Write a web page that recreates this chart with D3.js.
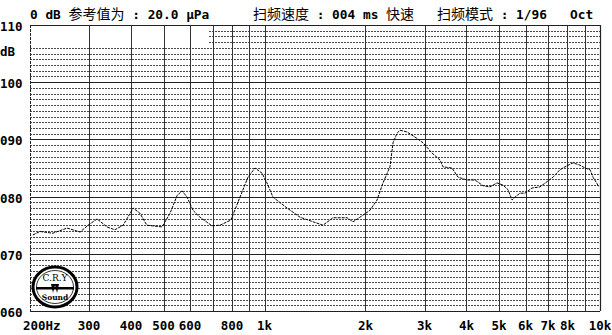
<!DOCTYPE html>
<html>
<head>
<meta charset="utf-8">
<script src="https://cdn.jsdelivr.net/npm/d3@7"></script>
<style>
  body { margin: 0; background: #fff; }
  svg { display: block; }
</style>
</head>
<body>
<div id="fig"></div>
<script>
// response curve
const freqs = [204, 214, 234, 258, 282, 298, 317, 339, 358, 379, 406, 425, 446, 495, 523, 549, 568, 588, 612, 642,
  697, 737, 794, 845, 893, 937, 983, 1017, 1060, 1167, 1276, 1395, 1494, 1600, 1762, 1836, 1926, 2062, 2165, 2255,
  2366, 2416, 2484, 2535, 2661, 2810, 2969, 3158, 3335, 3404, 3620, 3774, 4014, 4242, 4480, 4700, 4932, 5140, 5320,
  5468, 5580, 5776, 5976, 6270, 6624, 6950, 7244, 7598, 7864, 8308, 8716, 9022, 9340, 9532, 9932];
const levels = [73.3, 73.9, 73.6, 74.5, 73.8, 75.0, 76.1, 74.7, 74.2, 75.0, 78.0, 77.1, 75.0, 74.7, 77.1, 80.2, 81.0, 79.9, 77.6, 76.4,
  74.9, 75.0, 75.9, 79.9, 83.4, 85.0, 84.1, 82.4, 79.9, 78.0, 76.4, 75.6, 75.0, 76.3, 76.3, 75.6, 76.4, 77.6, 79.4, 82.4,
  85.2, 89.4, 91.1, 91.6, 91.3, 90.4, 89.4, 87.6, 86.4, 85.2, 85.0, 83.4, 82.9, 82.9, 81.9, 81.7, 82.4, 82.0, 81.2,
  79.4, 79.9, 80.6, 80.6, 81.5, 81.7, 82.6, 83.4, 84.7, 85.2, 85.9, 85.5, 85.0, 84.7, 83.4, 81.7];

const gridFreqs = [300, 400, 500, 600, 700, 800, 900, 1000, 2000, 3000, 4000, 5000, 6000, 7000, 8000, 9000];
const xTickFreqs = [200, 300, 400, 500, 600, 800, 1000, 2000, 3000, 4000, 5000, 6000, 7000, 8000, 10000];
const xTickText = ["200Hz", "300", "400", "500", "600", "800", "1k", "2k", "3k", "4k", "5k", "6k", "7k", "8k", "10k"];
const yTicks = [110, 100, 90, 80, 70, 60];
const yTickText = ["110", "100", "090", "080", "070", "060"];

const headers = ["0 dB 参考值为 : 20.0 μPa", "扫频速度 : 004 ms 快速", "扫频模式 : 1/96   Oct"];

const W = 612, H = 335;
const plotL = 30, plotR = 600, plotT = 25, plotB = 311;
const mono = "'DejaVu Sans Mono', 'Liberation Mono', monospace";
const cjk = "'Noto Sans CJK SC', sans-serif";

const svg = d3.select("#fig").append("svg")
    .attr("width", W)
    .attr("height", H);

svg.append("rect").attr("width", W).attr("height", H).attr("fill", "#fff");

const x = d3.scaleLog().domain([200, 10000]).range([plotL, plotR]);
const y = d3.scaleLinear().domain([60, 110]).range([plotB, plotT]);

// minor dotted rows every 1 dB (top rows are blank under the title on the left)
const minor = d3.range(61, 110).filter(d => d % 10 != 0);
svg.selectAll(".minor")
    .data(minor)
    .enter()
    .append("line")
    .attr("x1", d => d >= 107 ? 209 : plotL)
    .attr("x2", plotR)
    .attr("y1", d => Math.round(y(d)) + 0.5)
    .attr("y2", d => Math.round(y(d)) + 0.5)
    .attr("stroke", "#4a4a4a")
    .attr("stroke-width", 1)
    .attr("stroke-dasharray", "2,1");

// vertical grid
svg.selectAll(".vgrid")
    .data(gridFreqs)
    .enter()
    .append("line")
    .attr("x1", d => Math.round(x(d)) + 0.5)
    .attr("x2", d => Math.round(x(d)) + 0.5)
    .attr("y1", plotT)
    .attr("y2", plotB)
    .attr("stroke", "#333")
    .attr("stroke-width", 1);

// major horizontals
svg.selectAll(".major")
    .data([100, 90, 80, 70])
    .enter()
    .append("line")
    .attr("x1", plotL)
    .attr("x2", plotR)
    .attr("y1", d => Math.round(y(d)) + 0.5)
    .attr("y2", d => Math.round(y(d)) + 0.5)
    .attr("stroke", "#222")
    .attr("stroke-width", 1.2);

// frame
svg.append("line").attr("x1", plotL).attr("x2", plotR).attr("y1", plotT + 0.5).attr("y2", plotT + 0.5)
    .attr("stroke", "#222").attr("stroke-width", 1.2);
svg.append("line").attr("x1", plotL).attr("x2", plotR).attr("y1", plotB + 0.5).attr("y2", plotB + 0.5)
    .attr("stroke", "#222").attr("stroke-width", 1.2);
svg.append("line").attr("x1", plotR + 0.5).attr("x2", plotR + 0.5).attr("y1", plotT).attr("y2", plotB)
    .attr("stroke", "#222").attr("stroke-width", 1.2);
svg.append("line").attr("x1", plotL + 0.5).attr("x2", plotL + 0.5).attr("y1", plotT).attr("y2", plotB)
    .attr("stroke", "#222").attr("stroke-width", 1).attr("stroke-dasharray", "3,1");

// curve
const line = d3.line()
    .x((d, i) => x(freqs[i]))
    .y(d => y(d));

svg.append("path")
    .datum(levels)
    .attr("fill", "none")
    .attr("stroke", "#000")
    .attr("stroke-width", 1)
    .attr("stroke-dasharray", "3,1")
    .attr("d", line);

// y labels
svg.selectAll(".ylab")
    .data(yTicks)
    .enter()
    .append("text")
    .attr("x", 0)
    .attr("y", d => y(d) + 6)
    .attr("font-family", mono)
    .attr("font-weight", "bold")
    .attr("font-size", 12.5)
    .attr("fill", "#000")
    .text((d, i) => yTickText[i]);

svg.append("text")
    .attr("x", 0)
    .attr("y", y(105.5) + 5)
    .attr("font-family", mono)
    .attr("font-weight", "bold")
    .attr("font-size", 12.5)
    .text("dB");

// x labels
svg.selectAll(".xlab")
    .data(xTickFreqs)
    .enter()
    .append("text")
    .attr("x", (d, i) => i == 0 ? x(d) - 7 : x(d))
    .attr("y", 330)
    .attr("text-anchor", (d, i) => i == 0 ? "start" : "middle")
    .attr("font-family", mono)
    .attr("font-weight", "bold")
    .attr("font-size", 12.5)
    .attr("fill", "#000")
    .text((d, i) => xTickText[i]);

// header, latin in bold mono, chinese in CJK font
const headerX = [30, 253, 437];
headers.forEach((h, k) => {
    const t = svg.append("text")
        .attr("x", headerX[k])
        .attr("y", 19)
        .attr("font-size", 13)
        .attr("fill", "#000")
        .attr("xml:space", "preserve")
        .style("white-space", "pre");
    const parts = h.match(/[\u4e00-\u9fff]+|[^\u4e00-\u9fff]+/g);
    parts.forEach(p => {
        const isCjk = /[\u4e00-\u9fff]/.test(p);
        t.append("tspan")
            .attr("font-family", isCjk ? cjk : mono)
            .attr("font-weight", isCjk ? "normal" : "bold")
            .attr("font-size", isCjk ? 14 : 12.8)
            .text(p);
    });
});

// logo
const logo = svg.append("g").attr("transform", "translate(55,287)");
logo.append("ellipse").attr("rx", 22).attr("ry", 20)
    .attr("fill", "#fff").attr("stroke", "#000").attr("stroke-width", 3);
logo.append("ellipse").attr("rx", 18.5).attr("ry", 16.5)
    .attr("fill", "none").attr("stroke", "#000").attr("stroke-width", 0.8);
logo.append("text").attr("y", -6).attr("text-anchor", "middle")
    .attr("font-family", "'DejaVu Serif', serif").attr("font-size", 9).text("C.R.Y");
logo.append("text").attr("y", 13).attr("text-anchor", "middle")
    .attr("font-family", "'DejaVu Serif', serif").attr("font-size", 7.5).attr("font-weight", "bold").text("Sound");
logo.append("rect").attr("x", -19).attr("y", 0).attr("width", 38).attr("height", 2.5).attr("fill", "#000");
logo.append("path").attr("d", "M-4,-3 L-2,6 L0,-2 L2,6 L4,-3 Z").attr("fill", "#000");
</script>
</body>
</html>
